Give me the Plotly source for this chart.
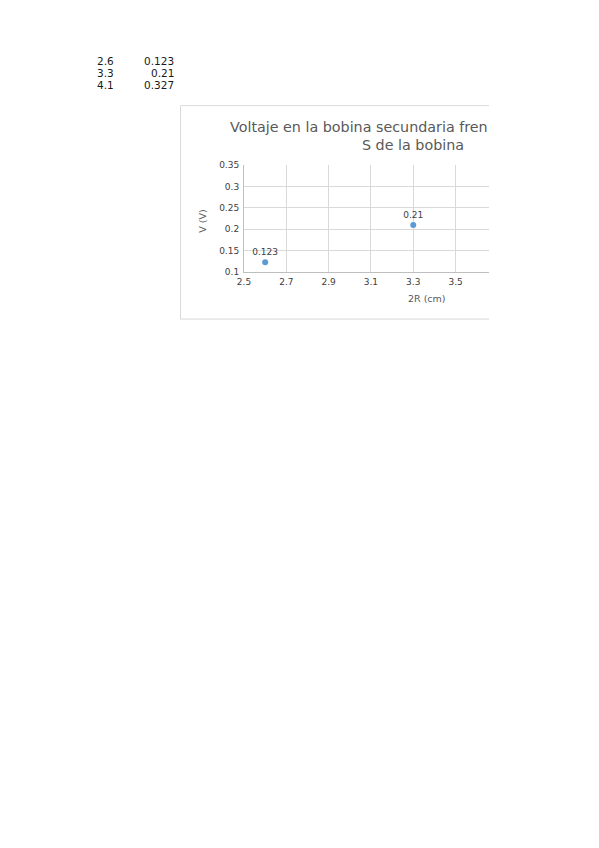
import plotly.graph_objects as go

# datos de la hoja: diametro 2R (cm) y voltaje (V)
diametro = [2.6, 3.3, 4.1]
voltaje = [0.123, 0.21, 0.327]
x_ticks = [2.5, 2.7, 2.9, 3.1, 3.3, 3.5]
y_ticks = [0.1, 0.15, 0.2, 0.25, 0.3, 0.35]

# la pagina tiene 8px de margen en el body
OFF = 8
W, H = 599 - OFF, 848 - OFF
# area de trazado en pixeles de la pagina
X0, X1, Y0, Y1 = 244, 489, 165, 272.3
gris = '#595959'
fuente = 'DejaVu Sans'


def px(x):
    return (x - X0) / (X1 - X0)


def py(y):
    return (Y1 - y) / (Y1 - Y0)


def texto(x, y, t, size, color, anchor='left', angle=0):
    return dict(x=px(x), y=py(y), xref='paper', yref='paper', text=t,
                showarrow=False, xanchor=anchor, yanchor='middle', textangle=angle,
                font=dict(family=fuente, size=size, color=color))


fig = go.Figure()
fig.add_trace(go.Scatter(
    x=diametro, y=voltaje, mode='markers+text',
    text=[str(v) for v in voltaje], textposition='top center',
    textfont=dict(family=fuente, size=9, color='#404040'),
    marker=dict(color='#5b9bd5', size=6),
    cliponaxis=True, hoverinfo='skip'))

# tabla de celdas arriba del grafico
anotaciones = []
for i, (d, v) in enumerate(zip(diametro, voltaje)):
    fila = 61 + 12 * i
    anotaciones.append(texto(94.5, fila, str(d), 10.5, '#1a1a1a'))
    anotaciones.append(texto(176, fila, str(v), 10.5, '#1a1a1a', anchor='right'))

# titulo cortado por el borde de la pagina
anotaciones.append(texto(228, 127, 'Voltaje en la bobina secundaria fren', 14.3, gris))
anotaciones.append(texto(360, 145, 'S de la bobina', 14.3, gris))
# titulos de ejes (centrados sobre el grafico completo, no sobre la parte visible)
anotaciones.append(texto(427, 299, '2R (cm)', 9.5, gris, anchor='center'))
anotaciones.append(texto(203, 222, 'V (V)', 9.5, gris, anchor='center', angle=-90))

borde = dict(color='#d9d9d9', width=1)
lineas = [
    dict(type='line', xref='paper', yref='paper', x0=px(180.5), x1=px(489),
         y0=py(105.5), y1=py(105.5), line=borde),
    dict(type='line', xref='paper', yref='paper', x0=px(180.5), x1=px(489),
         y0=py(319.5), y1=py(319.5), line=borde),
    dict(type='line', xref='paper', yref='paper', x0=px(180.5), x1=px(180.5),
         y0=py(105.5), y1=py(319.5), line=borde),
]

fig.update_layout(
    width=W, height=H, showlegend=False,
    paper_bgcolor='white', plot_bgcolor='white',
    margin=dict(l=X0 - OFF, r=W - (X1 - OFF), t=Y0 - OFF, b=H - (Y1 - OFF), pad=0),
    annotations=anotaciones, shapes=lineas,
    xaxis=dict(range=[2.5, 3.658], tickvals=x_ticks, ticktext=[str(t) for t in x_ticks],
               showgrid=True, gridcolor='#d9d9d9', showline=True, linecolor='#bfbfbf',
               zeroline=False, ticks='', ticklabelstandoff=1,
               tickfont=dict(family=fuente, size=9, color='#404040')),
    yaxis=dict(range=[0.1, 0.35], tickvals=y_ticks, ticktext=[str(t) for t in y_ticks],
               showgrid=True, gridcolor='#d9d9d9', showline=True, linecolor='#bfbfbf',
               zeroline=False, ticks='', ticklabelstandoff=2,
               tickfont=dict(family=fuente, size=9, color='#404040')),
)

fig.write_html('out.html')
